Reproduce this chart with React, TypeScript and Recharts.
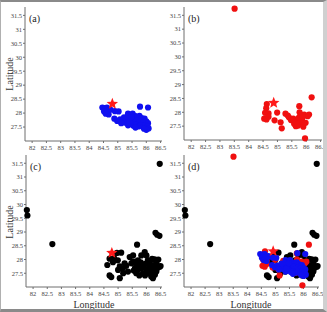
import { ScatterChart, Scatter, XAxis, YAxis } from "recharts"

type Pt = { x: number; y: number }

const lonTicks = [82, 82.5, 83, 83.5, 84, 84.5, 85, 85.5, 86, 86.5]
const latTicks = [27.5, 28, 28.5, 29, 29.5, 30, 30.5, 31, 31.5]
const lonDomain: [number, number] = [81.75, 86.55]
const latDomain: [number, number] = [27, 31.8]

// aftershocks, first group
const blueEvents: Pt[] = [
  { x: 84.46, y: 28.2 }, { x: 84.56, y: 28.18 }, { x: 84.62, y: 28.2 }, { x: 84.52, y: 28.06 },
  { x: 84.58, y: 27.98 }, { x: 84.68, y: 27.95 }, { x: 84.64, y: 28.08 }, { x: 84.75, y: 28.12 },
  { x: 84.9, y: 28.07 }, { x: 85.03, y: 28.06 }, { x: 84.88, y: 27.8 }, { x: 84.98, y: 27.72 },
  { x: 85.08, y: 27.78 }, { x: 85.16, y: 27.72 }, { x: 85.25, y: 27.66 }, { x: 85.3, y: 27.78 },
  { x: 85.12, y: 27.64 }, { x: 85.36, y: 27.56 }, { x: 85.22, y: 27.85 }, { x: 85.36, y: 27.98 },
  { x: 85.45, y: 27.92 }, { x: 85.52, y: 27.98 }, { x: 85.6, y: 27.9 }, { x: 85.68, y: 27.86 },
  { x: 85.76, y: 27.9 }, { x: 85.84, y: 27.82 }, { x: 85.94, y: 27.8 }, { x: 85.42, y: 27.8 },
  { x: 85.5, y: 27.72 }, { x: 85.58, y: 27.66 }, { x: 85.66, y: 27.74 }, { x: 85.74, y: 27.66 },
  { x: 85.82, y: 27.72 }, { x: 85.9, y: 27.68 }, { x: 86.0, y: 27.7 }, { x: 86.06, y: 27.64 },
  { x: 85.46, y: 27.6 }, { x: 85.55, y: 27.55 }, { x: 85.64, y: 27.58 }, { x: 85.72, y: 27.52 },
  { x: 85.8, y: 27.56 }, { x: 85.88, y: 27.5 }, { x: 85.96, y: 27.56 }, { x: 86.04, y: 27.52 },
  { x: 86.08, y: 27.45 }, { x: 86.0, y: 27.4 }, { x: 85.92, y: 27.44 }, { x: 85.62, y: 27.48 },
  { x: 85.4, y: 27.68 }, { x: 85.35, y: 27.88 }, { x: 85.48, y: 27.86 }, { x: 85.78, y: 28.23 },
  { x: 86.06, y: 28.2 },
]

// aftershocks, second group
const redEvents: Pt[] = [
  { x: 83.51, y: 31.74 }, { x: 85.96, y: 27.06 }, { x: 86.19, y: 28.54 }, { x: 84.63, y: 28.3 },
  { x: 84.61, y: 28.15 }, { x: 84.57, y: 27.98 }, { x: 84.69, y: 27.96 }, { x: 84.54, y: 27.77 },
  { x: 84.62, y: 27.74 }, { x: 84.69, y: 27.84 }, { x: 84.99, y: 27.99 }, { x: 84.9, y: 27.71 },
  { x: 85.11, y: 27.64 }, { x: 85.15, y: 27.42 }, { x: 85.28, y: 27.95 }, { x: 85.36, y: 27.88 },
  { x: 85.4, y: 27.82 }, { x: 85.55, y: 27.77 }, { x: 85.47, y: 27.72 }, { x: 85.58, y: 27.59 },
  { x: 85.64, y: 27.5 }, { x: 85.64, y: 27.66 }, { x: 85.76, y: 28.22 }, { x: 85.77, y: 28.0 },
  { x: 85.8, y: 27.9 }, { x: 85.86, y: 27.78 }, { x: 85.82, y: 27.7 }, { x: 85.93, y: 27.92 },
  { x: 86.05, y: 27.86 }, { x: 86.1, y: 27.92 }, { x: 85.79, y: 27.64 }, { x: 85.72, y: 27.52 },
  { x: 85.9, y: 27.48 }, { x: 85.98, y: 27.62 }, { x: 85.74, y: 27.8 }, { x: 85.88, y: 27.84 },
  { x: 85.7, y: 27.58 },
]

// aftershocks, third group
const blackEvents: Pt[] = [
  { x: 86.47, y: 31.48 }, { x: 81.78, y: 29.8 }, { x: 81.8, y: 29.6 }, { x: 82.68, y: 28.56 },
  { x: 86.32, y: 28.97 }, { x: 86.38, y: 28.9 }, { x: 86.46, y: 28.86 }, { x: 85.67, y: 28.54 },
  { x: 84.7, y: 28.03 }, { x: 84.62, y: 27.8 }, { x: 84.7, y: 27.42 }, { x: 84.76, y: 27.36 },
  { x: 84.99, y: 27.97 }, { x: 84.96, y: 28.24 }, { x: 85.11, y: 28.25 }, { x: 85.06, y: 27.75 },
  { x: 85.17, y: 27.68 }, { x: 85.06, y: 27.32 }, { x: 85.23, y: 27.86 }, { x: 85.29, y: 27.77 },
  { x: 85.35, y: 27.56 }, { x: 85.41, y: 28.09 }, { x: 85.53, y: 27.92 }, { x: 84.86, y: 28.05 },
  { x: 84.82, y: 27.9 }, { x: 85.18, y: 27.5 }, { x: 85.0, y: 27.62 }, { x: 85.47, y: 27.86 },
  { x: 85.53, y: 28.15 }, { x: 85.7, y: 27.97 }, { x: 85.82, y: 28.15 }, { x: 85.94, y: 28.27 },
  { x: 86.0, y: 28.15 }, { x: 86.05, y: 27.97 }, { x: 86.2, y: 28.02 }, { x: 86.29, y: 28.01 },
  { x: 86.47, y: 27.74 }, { x: 86.5, y: 27.76 }, { x: 86.17, y: 27.38 }, { x: 86.23, y: 27.32 },
  { x: 85.76, y: 27.8 }, { x: 85.82, y: 27.68 }, { x: 85.88, y: 27.5 }, { x: 85.64, y: 27.5 },
  { x: 86.0, y: 27.62 }, { x: 86.11, y: 27.74 }, { x: 86.23, y: 27.8 }, { x: 86.35, y: 27.86 },
  { x: 86.35, y: 27.56 }, { x: 86.05, y: 27.5 }, { x: 85.6, y: 27.7 }, { x: 85.7, y: 27.62 },
  { x: 85.9, y: 27.72 }, { x: 85.96, y: 27.84 }, { x: 86.14, y: 27.6 }, { x: 86.28, y: 27.66 },
  { x: 86.4, y: 27.7 }, { x: 86.1, y: 27.9 }, { x: 85.8, y: 27.9 }, { x: 85.66, y: 27.84 },
  { x: 86.18, y: 27.48 }, { x: 86.3, y: 27.45 }, { x: 85.95, y: 27.42 }, { x: 85.75, y: 27.42 },
  { x: 85.55, y: 27.6 }, { x: 86.42, y: 28.0 },
]

// main shock, one per panel
const starA: Pt[] = [{ x: 84.81, y: 28.33 }]
const starB: Pt[] = [{ x: 84.87, y: 28.34 }]
const starC: Pt[] = [{ x: 84.78, y: 28.24 }]
const starD: Pt[] = [{ x: 84.92, y: 28.3 }]

const serif = "'Liberation Serif', 'DejaVu Serif', serif"
const axisColor = "#6e6e6e"

const dot = (color: string) => (p: any) => (
  <circle cx={p.cx} cy={p.cy} r={3.1} fill={color} />
)

const star = (p: any) => {
  const pts: string[] = []
  for (let i = 0; i < 10; i++) {
    const r = i % 2 === 0 ? 6 : 2.6
    const a = -Math.PI / 2 + (i * Math.PI) / 5
    pts.push(`${p.cx + r * Math.cos(a)},${p.cy + r * Math.sin(a)}`)
  }
  return <polygon points={pts.join(" ")} fill="#ff1a1a" />
}

type Layer = { data: Pt[]; color?: string; isStar?: boolean }

interface PanelProps {
  left: number
  top: number
  plotW: number
  plotH: number
  tag: string
  layers: Layer[]
}

function Panel({ left, top, plotW, plotH, tag, layers }: PanelProps) {
  const yw = 22
  const xh = 14
  const mt = 6
  const mr = 6
  const tickStyle = { fontSize: 6.5, fill: "#444", fontFamily: serif }
  return (
    <>
      <div style={{ position: "absolute", left: left - yw, top: top - mt }}>
        <ScatterChart
          width={yw + plotW + mr}
          height={mt + plotH + xh}
          margin={{ top: mt, right: mr, bottom: 0, left: 0 }}
        >
          <XAxis
            xAxisId="b"
            type="number"
            dataKey="x"
            domain={lonDomain}
            ticks={lonTicks}
            height={xh}
            tickSize={2}
            tickMargin={2}
            stroke={axisColor}
            tick={tickStyle}
            interval={0}
          />
          <XAxis
            xAxisId="t"
            orientation="top"
            type="number"
            dataKey="x"
            domain={lonDomain}
            ticks={lonTicks}
            height={0}
            mirror
            tickSize={2}
            tick={false}
            stroke={axisColor}
          />
          <YAxis
            yAxisId="l"
            type="number"
            dataKey="y"
            domain={latDomain}
            ticks={latTicks}
            width={yw}
            tickSize={2}
            tickMargin={1}
            stroke={axisColor}
            tick={tickStyle}
            interval={0}
          />
          <YAxis
            yAxisId="r"
            orientation="right"
            type="number"
            dataKey="y"
            domain={latDomain}
            ticks={latTicks}
            width={0}
            mirror
            tickSize={2}
            tick={false}
            stroke={axisColor}
          />
          {layers.map((l, i) => (
            <Scatter
              key={i}
              xAxisId="b"
              yAxisId="l"
              data={l.data}
              shape={l.isStar ? star : dot(l.color || "#000")}
              isAnimationActive={false}
            />
          ))}
        </ScatterChart>
      </div>
      <div
        style={{
          position: "absolute",
          left: left + 4,
          top: top + 7,
          fontFamily: serif,
          fontSize: 10,
          color: "#222",
          lineHeight: 1,
        }}
      >
        {tag}
      </div>
    </>
  )
}

const labelStyle = {
  position: "absolute" as const,
  fontFamily: serif,
  fontSize: 10,
  color: "#333",
  lineHeight: 1,
  whiteSpace: "nowrap" as const,
}

export default function App() {
  const blue = "#1010f0"
  const red = "#f01010"
  const black = "#000"
  return (
    <div
      style={{
        position: "absolute",
        left: 0,
        top: 0,
        width: 327,
        height: 312,
        boxSizing: "border-box",
        background: "#fff",
        borderTop: "2px solid #8a8a8a",
        borderLeft: "1px solid #b0b0b0",
        borderRight: "4px solid #d0d0d0",
        borderBottom: "3px solid #8a8a8a",
        overflow: "hidden",
      }}
    >
      <div style={{ position: "absolute", left: -1, top: -2 }}>
        <Panel left={25} top={7} plotW={137} plotH={134} tag="(a)"
          layers={[{ data: blueEvents, color: blue }, { data: starA, isStar: true }]} />
        <Panel left={184} top={7} plotW={138} plotH={133} tag="(b)"
          layers={[{ data: redEvents, color: red }, { data: starB, isStar: true }]} />
        <Panel left={26} top={155} plotW={136} plotH={132} tag="(c)"
          layers={[{ data: blackEvents, color: black }, { data: starC, isStar: true }]} />
        <Panel left={184} top={155} plotW={135} plotH={132} tag="(d)"
          layers={[
            { data: blackEvents, color: black },
            { data: redEvents, color: red },
            { data: blueEvents, color: blue },
            { data: starD, isStar: true },
          ]} />
        <div style={{ ...labelStyle, left: 10, top: 74, transform: "translate(-50%, -50%) rotate(-90deg)" }}>
          Latitude
        </div>
        <div style={{ ...labelStyle, left: 10, top: 222, transform: "translate(-50%, -50%) rotate(-90deg)" }}>
          Latitude
        </div>
        <div style={{ ...labelStyle, left: 94, top: 305, transform: "translate(-50%, -50%)" }}>
          Longitude
        </div>
        <div style={{ ...labelStyle, left: 251, top: 305, transform: "translate(-50%, -50%)" }}>
          Longitude
        </div>
      </div>
    </div>
  )
}
